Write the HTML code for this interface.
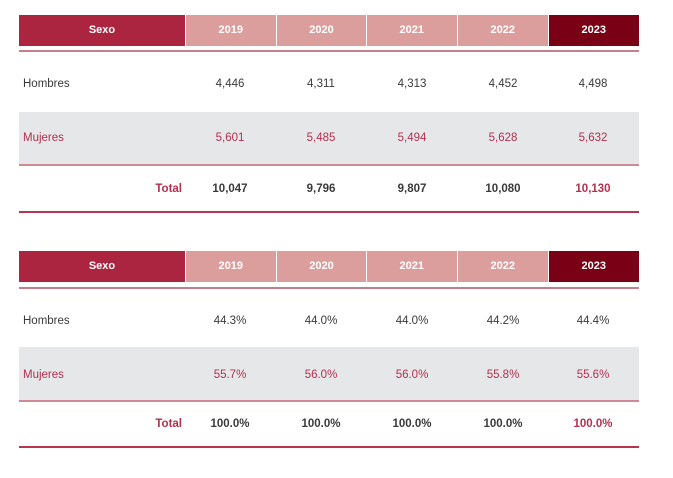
<!DOCTYPE html>
<html><head><meta charset="utf-8"><style>
body{margin:0;width:673px;height:478px;background:#fff;position:relative;overflow:hidden;font-family:"Liberation Sans",sans-serif;font-size:11.5px;color:#3a3a3a}
div{position:absolute;box-sizing:border-box}
.h{top:0;height:31px;line-height:31px;text-align:center;color:#fff;font-weight:bold;font-size:11px}
.t{text-align:center;width:90px}
.b{font-weight:bold}
.m{color:#b3304f}
</style></head><body>

<!-- Table 1 -->
<div style="left:0;top:15px;width:673px;height:31px">
 <div class="h" style="left:19px;width:166px;background:#ab2540">Sexo</div>
 <div class="h" style="left:186px;width:89.5px;background:#dc9e9c">2019</div>
 <div class="h" style="left:277px;width:89px;background:#dc9e9c">2020</div>
 <div class="h" style="left:367px;width:89.5px;background:#dc9e9c">2021</div>
 <div class="h" style="left:458px;width:89.5px;background:#dc9e9c">2022</div>
 <div class="h" style="left:549px;width:89.5px;background:#7a0016">2023</div>
</div>
<div style="left:19px;top:50px;width:620px;height:2px;background:#c67e8a"></div>
<div style="left:19px;top:112px;width:620px;height:53px;background:#e6e7e9"></div>
<div style="left:19px;top:164px;width:620px;height:2px;background:#cf8a95"></div>
<div style="left:19px;top:211px;width:620px;height:1.5px;background:#b8344f"></div>

<div style="left:23px;top:78px">Hombres</div>
<div class="t" style="left:185px;top:78px">4,446</div>
<div class="t" style="left:276px;top:78px">4,311</div>
<div class="t" style="left:367px;top:78px">4,313</div>
<div class="t" style="left:458px;top:78px">4,452</div>
<div class="t" style="left:548px;top:78px">4,498</div>

<div class="m" style="left:23px;top:132px">Mujeres</div>
<div class="t m" style="left:185px;top:132px">5,601</div>
<div class="t m" style="left:276px;top:132px">5,485</div>
<div class="t m" style="left:367px;top:132px">5,494</div>
<div class="t m" style="left:458px;top:132px">5,628</div>
<div class="t m" style="left:548px;top:132px">5,632</div>

<div class="b m" style="left:100px;width:82px;text-align:right;top:183px">Total</div>
<div class="t b" style="left:185px;top:183px">10,047</div>
<div class="t b" style="left:276px;top:183px">9,796</div>
<div class="t b" style="left:367px;top:183px">9,807</div>
<div class="t b" style="left:458px;top:183px">10,080</div>
<div class="t b m" style="left:548px;top:183px">10,130</div>

<!-- Table 2 -->
<div style="left:0;top:251px;width:673px;height:31px">
 <div class="h" style="left:19px;width:166px;background:#ab2540">Sexo</div>
 <div class="h" style="left:186px;width:89.5px;background:#dc9e9c">2019</div>
 <div class="h" style="left:277px;width:89px;background:#dc9e9c">2020</div>
 <div class="h" style="left:367px;width:89.5px;background:#dc9e9c">2021</div>
 <div class="h" style="left:458px;width:89.5px;background:#dc9e9c">2022</div>
 <div class="h" style="left:549px;width:89.5px;background:#7a0016">2023</div>
</div>
<div style="left:19px;top:287px;width:620px;height:2px;background:#c67e8a"></div>
<div style="left:19px;top:347px;width:620px;height:54px;background:#e6e7e9"></div>
<div style="left:19px;top:400px;width:620px;height:2px;background:#cf8a95"></div>
<div style="left:19px;top:446px;width:620px;height:1.5px;background:#b8344f"></div>

<div style="left:23px;top:315px">Hombres</div>
<div class="t" style="left:185px;top:315px">44.3%</div>
<div class="t" style="left:276px;top:315px">44.0%</div>
<div class="t" style="left:367px;top:315px">44.0%</div>
<div class="t" style="left:458px;top:315px">44.2%</div>
<div class="t" style="left:548px;top:315px">44.4%</div>

<div class="m" style="left:23px;top:369px">Mujeres</div>
<div class="t m" style="left:185px;top:369px">55.7%</div>
<div class="t m" style="left:276px;top:369px">56.0%</div>
<div class="t m" style="left:367px;top:369px">56.0%</div>
<div class="t m" style="left:458px;top:369px">55.8%</div>
<div class="t m" style="left:548px;top:369px">55.6%</div>

<div class="b m" style="left:100px;width:82px;text-align:right;top:418px">Total</div>
<div class="t b" style="left:185px;top:418px">100.0%</div>
<div class="t b" style="left:276px;top:418px">100.0%</div>
<div class="t b" style="left:367px;top:418px">100.0%</div>
<div class="t b" style="left:458px;top:418px">100.0%</div>
<div class="t b m" style="left:548px;top:418px">100.0%</div>
</body></html>
